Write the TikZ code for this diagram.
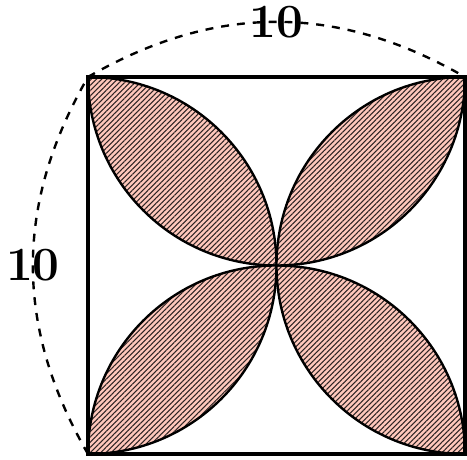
\documentclass[tikz,border=0pt]{standalone}
\usepackage{xcolor}
\usepackage{tikz}
\usetikzlibrary{positioning,patterns.meta,calc}
\definecolor{petalbg}{HTML}{FFC8BC}
\definecolor{hatch}{HTML}{2E2424}

\begin{document}
\begin{tikzpicture}[x=0.5cm,y=0.5cm,
  petal/.style={draw=black,line width=0.9pt,preaction={fill=petalbg},
    pattern={Lines[angle=45,distance=1.4pt,line width=0.4pt]},pattern color=hatch},
  sidelen/.style={font=\fontsize{18}{20}\selectfont\bfseries}]
\useasboundingbox (-2.334,-0.133) rectangle (10.053,12.042);
% ---------- corners of the square ----------
\coordinate (tl) at (0,10);
\coordinate (tr) at (10,10);
\coordinate (br) at (10,0);
\coordinate (bl) at (0,0);
% ---------- four petals ----------
\foreach \r in {0,90,180,270}
  \draw[petal,rotate around={\r:(5,5)}] (0,10) arc[start angle=180,end angle=270,radius=5]
    arc[start angle=0,end angle=90,radius=5];
\draw[line width=1.2pt] (bl) rectangle (tr);
% ---------- side lengths ----------
\draw[dashed,line width=0.9pt] (tl) to[bend left=30] node[sidelen] (top) {10} (tr);
\draw[dashed,line width=0.9pt] (bl) to[bend left=30] node[sidelen] (left) {10} (tl);
\end{tikzpicture}
\end{document}
